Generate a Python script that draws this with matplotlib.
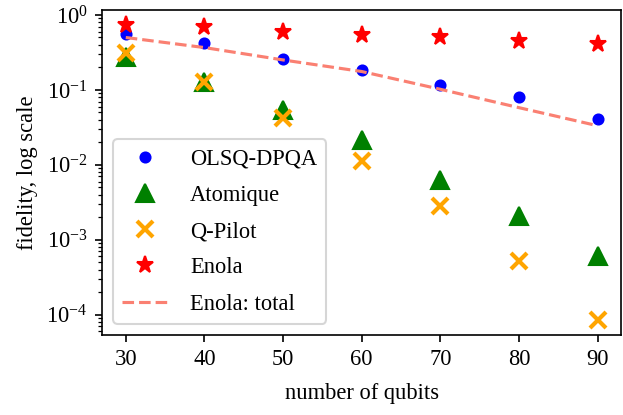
import numpy as np
import matplotlib
matplotlib.use('Agg')
import matplotlib.pyplot as plt

plt.rcParams['font.family'] = ['Liberation Serif', 'DejaVu Serif']
plt.rcParams['mathtext.fontset'] = 'custom'
plt.rcParams['mathtext.rm'] = 'Liberation Serif'
plt.rcParams['mathtext.it'] = 'Liberation Serif:italic'
plt.rcParams['font.size'] = 10.8

qubits = [30, 40, 50, 60, 70, 80, 90]
olsq_dpqa = [0.55, 0.42, 0.258, 0.186, 0.118, 0.0815, 0.041]
atomique = [0.278, 0.129, 0.054, 0.0216, 0.0063, 0.00205, 0.00061]
qpilot = [0.31, 0.127, 0.042, 0.0113, 0.00284, 0.00053, 0.000085]
enola = [0.74, 0.685, 0.60, 0.545, 0.50, 0.452, 0.406]
enola_total = [0.50, 0.367, 0.251, 0.176, 0.102, 0.058, 0.0333]

# drawn at 150 dpi so default tick/line sizes scale like the original
fig, ax = plt.subplots(figsize=(623 / 150, 415 / 150), dpi=150)
fig.subplots_adjust(left=0.164, right=0.997, top=0.976, bottom=0.193)

ax.plot(qubits, olsq_dpqa, 'o', color='blue', markersize=4.8, label='OLSQ-DPQA')
ax.plot(qubits, atomique, '^', color='green', markersize=8.6, label='Atomique')
ax.plot(qubits, qpilot, 'x', color='orange', markersize=7.5, mew=2, label='Q-Pilot')
ax.plot(qubits, enola, '*', color='red', markersize=8.5, label='Enola')
ax.plot(qubits, enola_total, '--', color='salmon', lw=1.5, label='Enola: total')

ax.set_yscale('log')
ax.set_xlabel('number of qubits', labelpad=6)
ax.set_ylabel('fidelity, log scale')
ax.legend(loc='lower left', labelspacing=0.68, handletextpad=1.0)

fig.savefig('out.png', dpi=150)
